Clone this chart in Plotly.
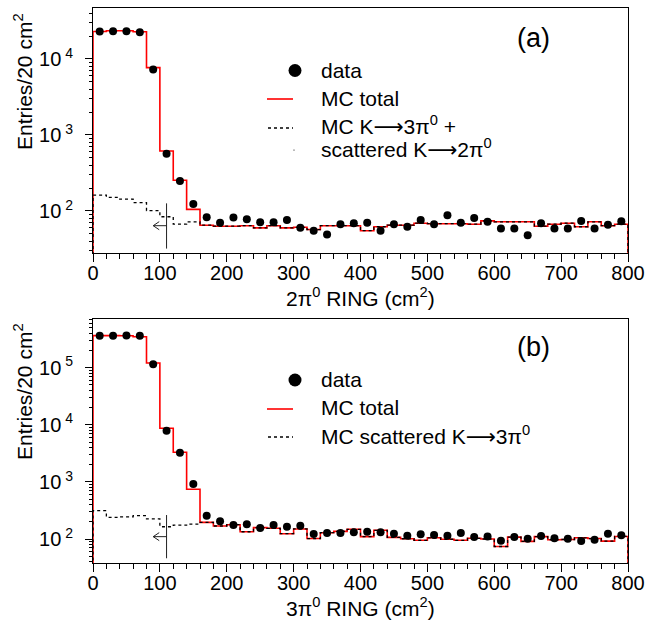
import plotly.graph_objects as go

# ---------------- data ----------------
bin_edges = [20 * i for i in range(41)]          # 0..800 cm^2, 20 cm^2 bins
bin_centers = [10 + 20 * i for i in range(40)]

# panel (a): 2pi0 ring
data_a = [23000, 23200, 23200, 22500, 7300, 567, 248, 124, 83, 70,
          82, 78, 71, 71, 76, 60, 55, 49, 67, 69,
          70, 55, 67, 62, 76, 67, 88, 70, 81, 72,
          59, 59, 48, 69, 59, 59, 74, 59, 66, 73]
mc_total_a = [23000, 23500, 23500, 22800, 7700, 615, 254, 105, 65, 63,
              63, 64, 60, 64, 60, 61, 57, 64, 64, 64,
              55, 62, 65, 65, 69, 68, 68, 68, 67, 74,
              72, 72, 72, 63, 67, 69, 62, 72, 64, 67]
mc_bkg_a = [162, 151, 143, 129, 101, 84, 67, 72, 65, 63,
            63, 64, 60, 64, 60, 61, 57, 64, 64, 64,
            55, 62, 65, 65, 69, 68, 68, 68, 67, 74,
            72, 72, 72, 63, 67, 69, 62, 72, 64, 67]

# panel (b): 3pi0 ring
data_b = [362000, 364000, 366000, 362000, 115000, 7900, 3250, 919, 256, 204,
          176, 181, 156, 176, 164, 170, 122, 127, 127, 131,
          134, 131, 124, 114, 121, 117, 114, 127, 108, 111,
          93, 108, 101, 113, 103, 101, 92, 97, 124, 116]
mc_total_b = [365000, 365000, 362000, 349000, 121000, 8680, 3300, 742, 196, 169,
              178, 134, 158, 154, 124, 150, 102, 129, 136, 148,
              110, 142, 107, 101, 95, 105, 99, 95, 103, 100,
              74, 108, 91, 110, 97, 98, 105, 102, 92, 111]
mc_bkg_b = [313, 240, 245, 256, 225, 164, 175, 182, 196, 169,
            178, 134, 158, 154, 124, 150, 102, 129, 136, 148,
            110, 142, 107, 101, 95, 105, 99, 95, 103, 100,
            74, 108, 91, 110, 97, 98, 105, 102, 92, 111]

# cut marker (arrow) values
cut_x = 110
arrow_tip_x = 90
arrow_a = dict(y=64, ylo=32, yhi=126, head=1.13)
arrow_b = dict(y=110, ylo=46, yhi=263, head=1.175)

x_ticks = list(range(0, 801, 100))
yrange_a = [1.447, 4.671]
yrange_b = [1.580, 5.853]
yt_a = [100, 1000, 10000]
yt_b = [100, 1000, 10000, 100000]

FONT = "Liberation Sans, Arial, Helvetica, sans-serif"
ARROW = '<span style="font-family:DejaVu Sans">⟶</span>'
W, H = 647, 622


def P(px, py):
    return px / W, 1 - py / H


def step(vals):
    xs = [bin_edges[0]] + bin_edges[:-1] + [bin_edges[-1], bin_edges[-1]]
    ys = [1e-3] + list(vals) + [vals[-1], 1e-3]
    return xs, ys


def minor_vals(lo, hi):
    out = []
    d = 10 ** lo
    while d < 10 ** hi:
        for m in range(2, 10):
            out.append(m * d)
        d *= 10
    return out


fig = go.Figure()

panels = [
    ("x", "y", data_a, mc_total_a, mc_bkg_a, arrow_a),
    ("x2", "y2", data_b, mc_total_b, mc_bkg_b, arrow_b),
]
for xa, ya, dat, tot, bkg, arr in panels:
    sx, sy = step(tot)
    fig.add_trace(go.Scatter(x=sx, y=sy, mode="lines", line_shape="hv",
                             line=dict(color="#ff0000", width=1.6),
                             xaxis=xa, yaxis=ya, showlegend=False, hoverinfo="skip"))
    bx, by = step(bkg)
    fig.add_trace(go.Scatter(x=bx, y=by, mode="lines", line_shape="hv",
                             line=dict(color="black", width=1.3, dash="3px,3px"),
                             xaxis=xa, yaxis=ya, showlegend=False, hoverinfo="skip"))
    fig.add_trace(go.Scatter(x=bin_centers, y=dat, mode="markers",
                             marker=dict(color="black", size=8),
                             xaxis=xa, yaxis=ya, showlegend=False))
    # cut line + arrow
    fig.add_trace(go.Scatter(x=[cut_x, cut_x], y=[arr["ylo"], arr["yhi"]], mode="lines",
                             line=dict(color="#222", width=1),
                             xaxis=xa, yaxis=ya, showlegend=False, hoverinfo="skip"))
    fig.add_trace(go.Scatter(x=[cut_x, arrow_tip_x], y=[arr["y"], arr["y"]], mode="lines",
                             line=dict(color="#222", width=1),
                             xaxis=xa, yaxis=ya, showlegend=False, hoverinfo="skip"))
    fig.add_trace(go.Scatter(x=[arrow_tip_x + 9, arrow_tip_x, arrow_tip_x + 9],
                             y=[arr["y"] * arr["head"], arr["y"], arr["y"] / arr["head"]],
                             mode="lines", line=dict(color="#222", width=1),
                             xaxis=xa, yaxis=ya, showlegend=False, hoverinfo="skip"))

xdom = [93 / W, 628 / W]
axis_common = dict(showline=True, linecolor="black", linewidth=1, mirror=True,
                   showgrid=False, zeroline=False, automargin=False,
                   tickfont=dict(family=FONT, size=20, color="black"))

xaxis_cfg = dict(axis_common, range=[0, 800], tickvals=x_ticks, ticks="outside",
                 ticklen=8, tickcolor="black", ticklabelstandoff=-6,
                 minor=dict(dtick=20, tick0=0, ticks="outside", ticklen=5, tickcolor="black"))

fig.update_layout(
    width=W, height=H, margin=dict(l=0, r=0, t=0, b=0),
    paper_bgcolor="white", plot_bgcolor="white", showlegend=False,
    xaxis=dict(xaxis_cfg, domain=xdom, anchor="y"),
    xaxis2=dict(xaxis_cfg, domain=xdom, anchor="y2"),
    yaxis=dict(axis_common, type="log", range=yrange_a, domain=[1 - 253 / H, 1 - 8 / H],
               anchor="x", tickvals=yt_a,
               ticktext=["10<sup> %d</sup>" % len(str(v)[1:]) for v in yt_a],
               ticks="outside", ticklen=7, tickcolor="black", ticklabelstandoff=8,
               minor=dict(tickvals=minor_vals(1, 5), ticks="outside", ticklen=3,
                          tickcolor="black")),
    yaxis2=dict(axis_common, type="log", range=yrange_b, domain=[1 - 563 / H, 1 - 319 / H],
                anchor="x2", tickvals=yt_b,
                ticktext=["10<sup> %d</sup>" % len(str(v)[1:]) for v in yt_b],
                ticks="outside", ticklen=7, tickcolor="black", ticklabelstandoff=8,
                minor=dict(tickvals=minor_vals(1, 6), ticks="outside", ticklen=3,
                           tickcolor="black")),
)

ann = []
shapes = []


def text(px, py, s, size=21, xanchor="left", angle=0):
    x, y = P(px, py)
    ann.append(dict(x=x, y=y, xref="paper", yref="paper", text=s, showarrow=False,
                    xanchor=xanchor, yanchor="middle", textangle=angle,
                    font=dict(family=FONT, size=size, color="black")))


def hline(x0, x1, py, color, width, dash=None):
    a0, b0 = P(x0, py)
    a1, _ = P(x1, py)
    ln = dict(color=color, width=width)
    if dash:
        ln["dash"] = dash
    shapes.append(dict(type="line", xref="paper", yref="paper", x0=a0, x1=a1,
                       y0=b0, y1=b0, line=ln))


def dot(px, py, r):
    a0, b0 = P(px - r, py + r)
    a1, b1 = P(px + r, py - r)
    shapes.append(dict(type="circle", xref="paper", yref="paper", x0=a0, x1=a1,
                       y0=b0, y1=b1, fillcolor="black", line=dict(color="black", width=0)))


# panel labels
text(533, 38, "(a)", size=27, xanchor="center")
text(533, 347, "(b)", size=27, xanchor="center")

# axis titles
text(360, 297.5, "2π<sup>0</sup> RING (cm<sup>2</sup>)", size=21, xanchor="center")
text(360, 606.5, "3π<sup>0</sup> RING (cm<sup>2</sup>)", size=21, xanchor="center")
text(23, 82, "Entries/20 cm<sup>2</sup>", size=21, xanchor="center", angle=-90)
text(23, 392, "Entries/20 cm<sup>2</sup>", size=21, xanchor="center", angle=-90)

# legend (a)
dot(295, 70.5, 6.5)
text(319, 70.5, "data")
hline(267, 293, 99, "#ff0000", 1.6)
text(319, 98.5, "MC total")
hline(268, 293, 128, "black", 1.3, "3px,3px")
text(319, 126, "MC K" + ARROW + "3π<sup>0</sup> +")
dot(294, 150, 0.6)
text(319, 148, "scattered K" + ARROW + "2π<sup>0</sup>")

# legend (b)
dot(295, 380, 6.5)
text(319, 379.5, "data")
hline(267, 293, 409, "#ff0000", 1.6)
text(319, 407.5, "MC total")
hline(268, 293, 437, "black", 1.3, "3px,3px")
text(319, 435, "MC scattered K" + ARROW + "3π<sup>0</sup>")

fig.update_layout(annotations=ann, shapes=shapes)
fig.write_html("out.html", config={"displayModeBar": False},
               post_script="document.body.style.margin='0';")
